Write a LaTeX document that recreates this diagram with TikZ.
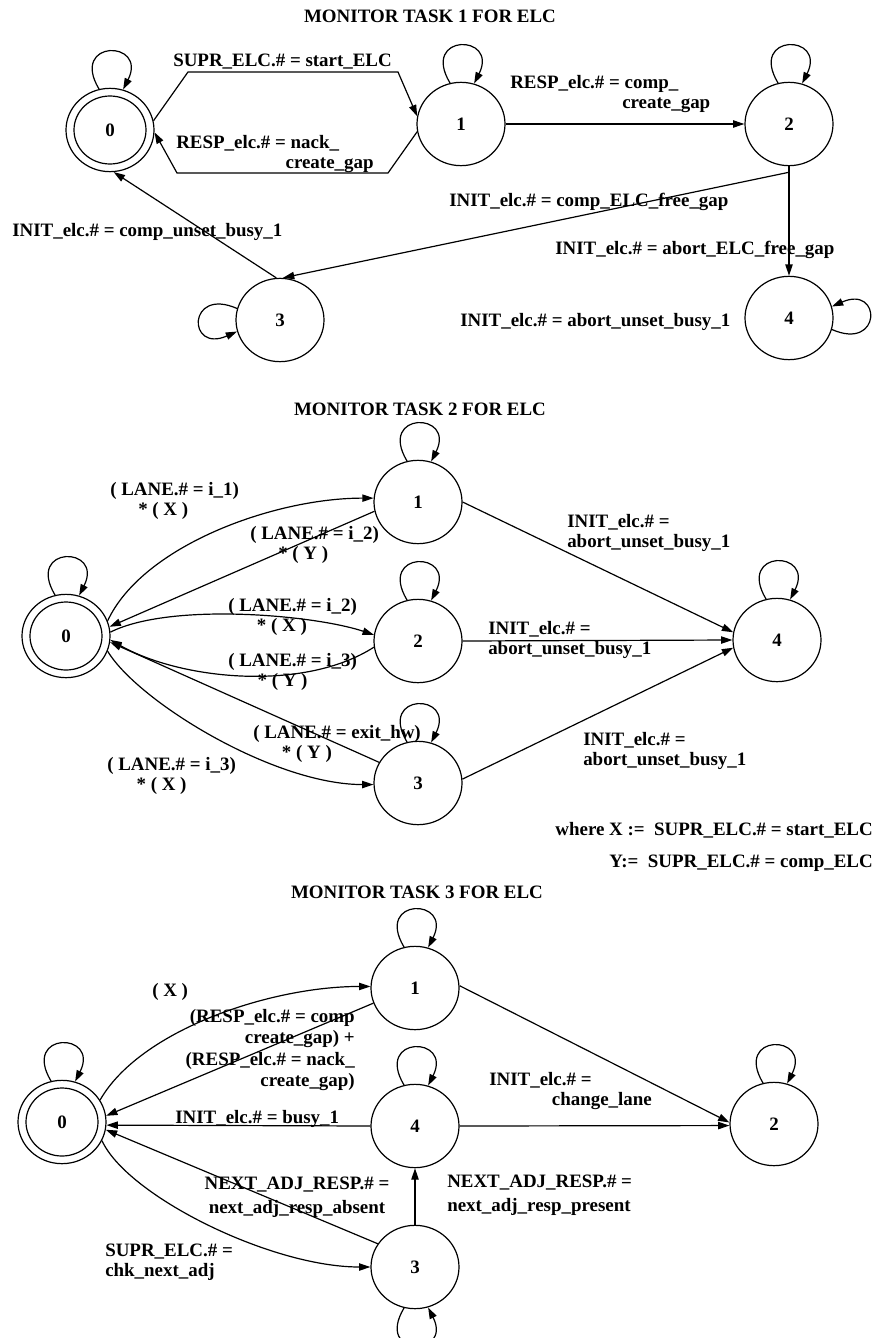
\documentclass[tikz,border=0pt]{standalone}
\usepackage{fontspec}
\setmainfont{Liberation Serif}
\usetikzlibrary{arrows.meta,shapes.geometric}
\newcommand\lbf{\fontsize{14.2pt}{14.6pt}\selectfont\bfseries}
\newcommand\toploop[1]{\draw[ed] (#1.105) .. controls +(-30,-50) and +(25,-50) .. (#1.72);}
\newcommand\dblring[1]{\draw[line width=0.9pt] (#1.center) ellipse [x radius=27pt, y radius=25.5pt];}
\begin{document}
\begin{tikzpicture}[x=0.75pt,y=-0.75pt,
  st/.style={draw, ellipse, line width=0.9pt, minimum width=66pt, minimum height=62.5pt, inner sep=0pt, font=\lbf},
  ed/.style={line width=0.9pt, -{Triangle[length=8.5pt,width=5.5pt]}},
  lb/.style={inner sep=0pt, font=\lbf},
  lw/.style={lb, anchor=west, align=left}]
\useasboundingbox (0,0) rectangle (882,1338);

% ---------------- Section 1 ----------------
\node[lb] (t1) at (430,16) {MONITOR TASK 1 FOR ELC};
\node[st] (a0) at (110,130) {0};
\dblring{a0}
\node[st] (a1) at (461,124) {1};
\node[st] (a2) at (789,124) {2};
\node[st] (a3) at (280,320) {3};
\node[st] (a4) at (789,318) {4};

\toploop{a0}
\toploop{a1}
\toploop{a2}
\draw[ed] (a4.-15) .. controls +(50,22) and +(50,-22) .. (a4.15);
\draw[ed] (a3.165) .. controls +(-50,-22) and +(-50,22) .. (a3.195);

\draw[ed] (a0.12) -- (188,72) -- (398,72) -- (a1.170);
\draw[ed] (a1.190) -- (388,173) -- (177,173) -- (a0.357);
\draw[ed] (a1.east) -- (a2.west);
\draw[ed] ([yshift=-4.5pt]a2.south) -- (a3.86);
\draw[ed] (a2.south) -- (a4.north);
\draw[ed] (a3.95) -- (a0.275);

\node[lw] (l11) at (173,62) {SUPR\_ELC.\# = start\_ELC};
\node[lw] (l12) at (176,154) {RESP\_elc.\# = nack\_\\\hspace*{82pt}create\_gap};
\node[lw] (l13) at (510,94) {RESP\_elc.\# = comp\_\\\hspace*{84pt}create\_gap};
\node[lw] (l14) at (449,202) {INIT\_elc.\# = comp\_ELC\_free\_gap};
\node[lw] (l15) at (555,250) {INIT\_elc.\# = abort\_ELC\_free\_gap};
\node[lw] (l16) at (12,232) {INIT\_elc.\# = comp\_unset\_busy\_1};
\node[lw] (l17) at (460,322) {INIT\_elc.\# = abort\_unset\_busy\_1};

% ---------------- Section 2 ----------------
\node[lb] (t2) at (420,409) {MONITOR TASK 2 FOR ELC};
\node[st] (b0) at (66,636) {0};
\dblring{b0}
\node[st] (b1) at (418,502) {1};
\node[st] (b2) at (418,641) {2};
\node[st] (b3) at (418,783) {3};
\node[st] (b4) at (777,640) {4};

\toploop{b0}
\toploop{b1}
\toploop{b2}
\toploop{b3}
\toploop{b4}

\draw[ed] (b0.20) .. controls +(35,-75) and +(-100,0) .. (b1.175);
\draw[ed] (b1.192) -- (b0.12);
\draw[ed] (b0.5) .. controls +(60,-30) and +(-60,-20) .. (b2.172);
\draw[ed] (b2.188) .. controls +(-70,45) and +(70,40) .. (b0.-5);
\draw[ed] (b3.152) -- (b0.-8);
\draw[ed] (b0.-20) .. controls +(30,50) and +(-100,0) .. (b3.182);
\draw[ed] (b1.0) -- (b4.170);
\draw[ed] (b2.0) -- (b4.180);
\draw[ed] (b3.5) -- (b4.190);

\node[lw] (l21) at (110,501) {( LANE.\# = i\_1)\\\hspace*{21pt}* ( X )};
\node[lw] (l22) at (250,545) {( LANE.\# = i\_2)\\\hspace*{21pt}* ( Y )};
\node[lw] (l23) at (228,617) {( LANE.\# = i\_2)\\\hspace*{21.5pt}* ( X )};
\node[lw] (l24) at (228,672) {( LANE.\# = i\_3)\\\hspace*{22pt}* ( Y )};
\node[lw] (l25) at (253,744) {( LANE.\# = exit\_hw)\\\hspace*{21.5pt}* ( Y )};
\node[lw] (l26) at (107,776) {( LANE.\# = i\_3)\\\hspace*{22pt}* ( X )};
\node[lw] (l27) at (567,533) {INIT\_elc.\# =\\abort\_unset\_busy\_1};
\node[lw] (l28) at (488,640) {INIT\_elc.\# =\\abort\_unset\_busy\_1};
\node[lw] (l29) at (583,751) {INIT\_elc.\# =\\abort\_unset\_busy\_1};
\node[lb, anchor=east] (lgx) at (873,830) {where X :=\enspace SUPR\_ELC.\# = start\_ELC};
\node[lb, anchor=east] (lgy) at (873,863) {Y:=\enspace SUPR\_ELC.\# = comp\_ELC};

% ---------------- Section 3 ----------------
\node[lb] (t3) at (417,892) {MONITOR TASK 3 FOR ELC};
\node[st] (c0) at (62,1122) {0};
\dblring{c0}
\node[st] (c1) at (415,988) {1};
\node[st] (c4) at (415,1126) {4};
\node[st] (c3) at (415,1267) {3};
\node[st] (c2) at (774,1124) {2};

\toploop{c0}
\toploop{c1}
\toploop{c4}
\toploop{c2}
\draw[ed] (c3.-105) .. controls +(-30,50) and +(25,50) .. (c3.-72);

\draw[ed] (c0.30) .. controls +(40,-70) and +(-100,0) .. (c1.178);
\draw[ed] (c1.200) -- (c0.8);
\draw[ed] (c4.180) -- (c0.-4);
\draw[ed] (c3.148) -- (c0.-10);
\draw[ed] (c0.-25) .. controls +(25,55) and +(-100,0) .. (c3.180);
\draw[ed] (c3.north) -- (c4.south);
\draw[ed] (c1.3) -- (c2.178);
\draw[ed] (c4.0) -- (c2.182);

\node[lw] (l31) at (152,992) {( X )};
\node[lb, anchor=east, align=right] (l32) at (355,1050) {(RESP\_elc.\# = comp\\[1.2pt]create\_gap) +\\[1.2pt](RESP\_elc.\# = nack\_\\[1.2pt]create\_gap)};
\node[lw] (l33) at (175,1119) {INIT\_elc.\# = busy\_1};
\node[lb, align=center] (l34) at (297,1197) {NEXT\_ADJ\_RESP.\# =\\[3.5pt]next\_adj\_resp\_absent};
\node[lw] (l35) at (105,1262) {SUPR\_ELC.\# =\\chk\_next\_adj};
\node[lw] (l36) at (447,1195) {NEXT\_ADJ\_RESP.\# =\\[3.5pt]next\_adj\_resp\_present};
\node[lw] (l37) at (489,1091) {INIT\_elc.\# =\\\hspace*{47pt}change\_lane};
\end{tikzpicture}
\end{document}
